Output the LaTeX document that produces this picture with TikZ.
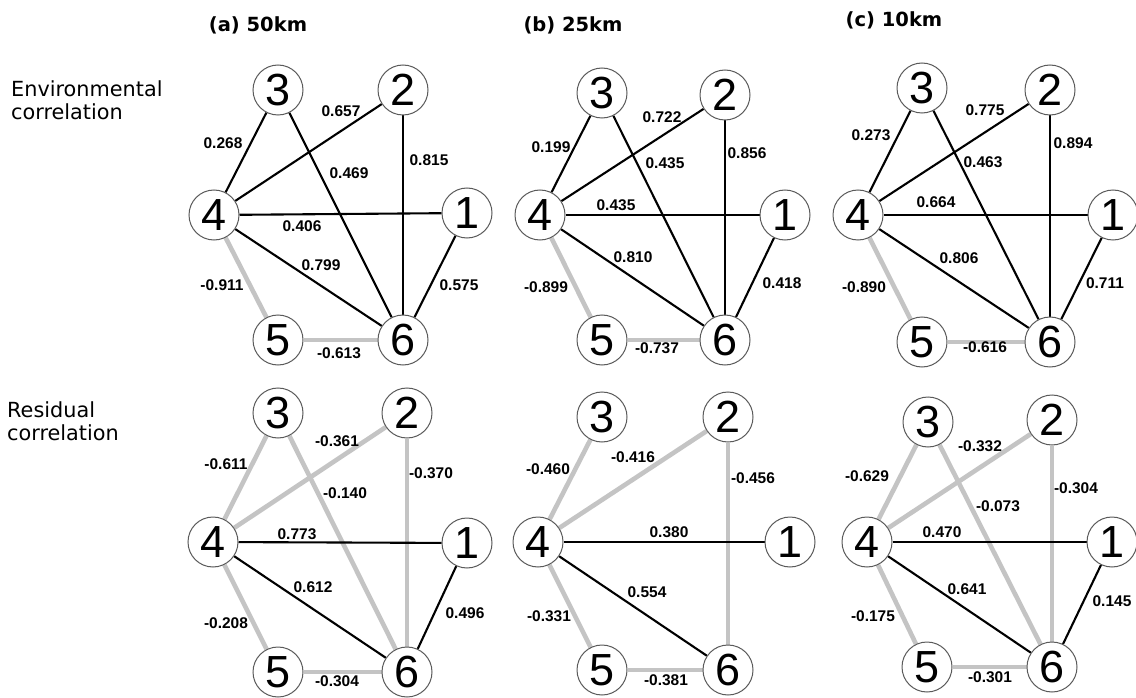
\documentclass[tikz,border=0pt]{standalone}
\usepackage{fontspec}
\setmainfont{DejaVu Sans}
\newfontfamily\arialfont{Liberation Sans}
\usetikzlibrary{backgrounds}
\definecolor{negcol}{HTML}{C4C4C4}
\definecolor{rimcol}{HTML}{5A5A5A}
\tikzset{
  vert/.style={circle, draw=rimcol, line width=1pt, fill=white, minimum size=50pt,
    inner sep=0pt, font=\arialfont\fontsize{45}{45}\selectfont},
  posedge/.style={draw=black, line width=2.1pt},
  negedge/.style={draw=negcol, line width=4.6pt},
  lab/.style={inner sep=0pt, font=\arialfont\bfseries\fontsize{15.5}{15.5}\selectfont},
  ttl/.style={inner sep=0pt, font=\bfseries\fontsize{19.5}{19.5}\selectfont},
  rowlab/.style={inner sep=0pt, anchor=west, align=left,
    font=\fontsize{20.8}{22.5}\selectfont}
}
\begin{document}
\begin{tikzpicture}[x=1pt,y=-1pt]
\useasboundingbox (0,0) rectangle (1136,698);

% column titles and row captions
\node[ttl] (ta) at (258,25) {(a) 50km};
\node[ttl] (tb) at (573,25) {(b) 25km};
\node[ttl] (tc) at (894,20) {(c) 10km};
\node[rowlab] (renv) at (11,100) {Environmental\\correlation};
\node[rowlab] (rres) at (7,421) {Residual\\correlation};

% ---------- environmental, 50km ----------
\node[vert] (A1) at (467,213) {1};
\node[vert] (A2) at (403,90) {2};
\node[vert] (A3) at (278,90) {3};
\node[vert] (A4) at (214,215) {4};
\node[vert] (A5) at (278,340) {5};
\node[vert] (A6) at (403,340) {6};
\begin{scope}[on background layer]
\draw[posedge] (A4) -- (A3);
\draw[posedge] (A4) -- (A2);
\draw[posedge] (A3) -- (A6);
\draw[posedge] (A2) -- (A6);
\draw[posedge] (A4) -- (A1);
\draw[posedge] (A4) -- (A6);
\draw[posedge] (A1) -- (A6);
\draw[negedge] (A4) -- (A5);
\draw[negedge] (A5) -- (A6);
\end{scope}
\node[lab] (la43) at (223,143) {0.268};
\node[lab] (la42) at (341,111) {0.657};
\node[lab] (la26) at (429,160) {0.815};
\node[lab] (la36) at (349,173) {0.469};
\node[lab] (la41) at (302,226) {0.406};
\node[lab] (la46) at (321,265) {0.799};
\node[lab] (la45) at (222,285) {-0.911};
\node[lab] (la56) at (339,353) {-0.613};
\node[lab] (la16) at (459,285) {0.575};

% ---------- environmental, 25km ----------
\node[vert] (B1) at (785,215) {1};
\node[vert] (B2) at (725,95) {2};
\node[vert] (B3) at (602,93) {3};
\node[vert] (B4) at (540,215) {4};
\node[vert] (B5) at (602,340) {5};
\node[vert] (B6) at (725,340) {6};
\begin{scope}[on background layer]
\draw[posedge] (B4) -- (B3);
\draw[posedge] (B4) -- (B2);
\draw[posedge] (B3) -- (B6);
\draw[posedge] (B2) -- (B6);
\draw[posedge] (B4) -- (B1);
\draw[posedge] (B4) -- (B6);
\draw[posedge] (B1) -- (B6);
\draw[negedge] (B4) -- (B5);
\draw[negedge] (B5) -- (B6);
\end{scope}
\node[lab] (lb43) at (551,147) {0.199};
\node[lab] (lb42) at (662,117) {0.722};
\node[lab] (lb26) at (747,153) {0.856};
\node[lab] (lb36) at (665,163) {0.435};
\node[lab] (lb41) at (616,205) {0.435};
\node[lab] (lb46) at (633,257) {0.810};
\node[lab] (lb45) at (546,287) {-0.899};
\node[lab] (lb56) at (657,348) {-0.737};
\node[lab] (lb16) at (782,283) {0.418};

% ---------- environmental, 10km ----------
\node[vert] (C1) at (1113,215) {1};
\node[vert] (C2) at (1050,90) {2};
\node[vert] (C3) at (922,88) {3};
\node[vert] (C4) at (858,215) {4};
\node[vert] (C5) at (922,342) {5};
\node[vert] (C6) at (1050,342) {6};
\begin{scope}[on background layer]
\draw[posedge] (C4) -- (C3);
\draw[posedge] (C4) -- (C2);
\draw[posedge] (C3) -- (C6);
\draw[posedge] (C2) -- (C6);
\draw[posedge] (C4) -- (C1);
\draw[posedge] (C4) -- (C6);
\draw[posedge] (C1) -- (C6);
\draw[negedge] (C4) -- (C5);
\draw[negedge] (C5) -- (C6);
\end{scope}
\node[lab] (lc43) at (871,135) {0.273};
\node[lab] (lc42) at (985,110) {0.775};
\node[lab] (lc26) at (1073,143) {0.894};
\node[lab] (lc36) at (983,162) {0.463};
\node[lab] (lc41) at (936,202) {0.664};
\node[lab] (lc46) at (959,258) {0.806};
\node[lab] (lc45) at (864,287) {-0.890};
\node[lab] (lc56) at (985,347) {-0.616};
\node[lab] (lc16) at (1105,283) {0.711};

% ---------- residual, 50km ----------
\node[vert] (D1) at (467,543) {1};
\node[vert] (D2) at (407,413) {2};
\node[vert] (D3) at (278,413) {3};
\node[vert] (D4) at (213,542) {4};
\node[vert] (D5) at (278,672) {5};
\node[vert] (D6) at (407,672) {6};
\begin{scope}[on background layer]
\draw[negedge] (D4) -- (D3);
\draw[negedge] (D4) -- (D2);
\draw[negedge] (D3) -- (D6);
\draw[negedge] (D2) -- (D6);
\draw[posedge] (D4) -- (D1);
\draw[posedge] (D4) -- (D6);
\draw[posedge] (D1) -- (D6);
\draw[negedge] (D4) -- (D5);
\draw[negedge] (D5) -- (D6);
\end{scope}
\node[lab] (ld43) at (226,464) {-0.611};
\node[lab] (ld42) at (337,441) {-0.361};
\node[lab] (ld26) at (431,473) {-0.370};
\node[lab] (ld36) at (345,493) {-0.140};
\node[lab] (ld41) at (297,534) {0.773};
\node[lab] (ld46) at (313,587) {0.612};
\node[lab] (ld45) at (226,623) {-0.208};
\node[lab] (ld56) at (337,681) {-0.304};
\node[lab] (ld16) at (465,613) {0.496};

% ---------- residual, 25km ----------
\node[vert] (E1) at (790,542) {1};
\node[vert] (E2) at (728,417) {2};
\node[vert] (E3) at (602,417) {3};
\node[vert] (E4) at (538,542) {4};
\node[vert] (E5) at (602,670) {5};
\node[vert] (E6) at (728,670) {6};
\begin{scope}[on background layer]
\draw[negedge] (E4) -- (E3);
\draw[negedge] (E4) -- (E2);
\draw[negedge] (E2) -- (E6);
\draw[posedge] (E4) -- (E1);
\draw[posedge] (E4) -- (E6);
\draw[negedge] (E4) -- (E5);
\draw[negedge] (E5) -- (E6);
\end{scope}
\node[lab] (le43) at (548,469) {-0.460};
\node[lab] (le42) at (633,457) {-0.416};
\node[lab] (le26) at (753,478) {-0.456};
\node[lab] (le41) at (669,532) {0.380};
\node[lab] (le46) at (647,592) {0.554};
\node[lab] (le45) at (549,616) {-0.331};
\node[lab] (le56) at (666,680) {-0.381};

% ---------- residual, 10km ----------
\node[vert] (F1) at (1112,542) {1};
\node[vert] (F2) at (1052,420) {2};
\node[vert] (F3) at (928,422) {3};
\node[vert] (F4) at (867,542) {4};
\node[vert] (F5) at (927,667) {5};
\node[vert] (F6) at (1052,667) {6};
\begin{scope}[on background layer]
\draw[negedge] (F4) -- (F3);
\draw[negedge] (F4) -- (F2);
\draw[negedge] (F3) -- (F6);
\draw[negedge] (F2) -- (F6);
\draw[posedge] (F4) -- (F1);
\draw[posedge] (F4) -- (F6);
\draw[posedge] (F1) -- (F6);
\draw[negedge] (F4) -- (F5);
\draw[negedge] (F5) -- (F6);
\end{scope}
\node[lab] (lf43) at (867,476) {-0.629};
\node[lab] (lf42) at (980,446) {-0.332};
\node[lab] (lf26) at (1076,488) {-0.304};
\node[lab] (lf36) at (998,506) {-0.073};
\node[lab] (lf41) at (942,532) {0.470};
\node[lab] (lf46) at (967,589) {0.641};
\node[lab] (lf45) at (873,616) {-0.175};
\node[lab] (lf56) at (990,677) {-0.301};
\node[lab] (lf16) at (1112,601) {0.145};
\end{tikzpicture}
\end{document}
